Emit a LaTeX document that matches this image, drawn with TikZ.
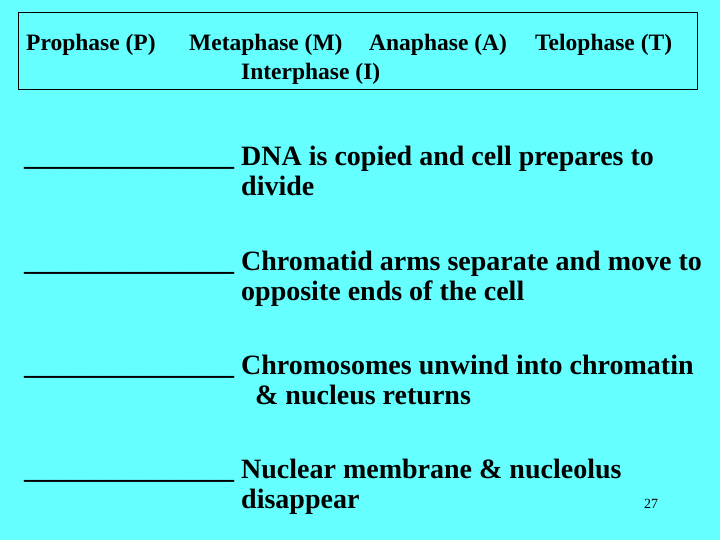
\documentclass[tikz,border=0pt]{standalone}
\usepackage{fontspec}
\setmainfont{Liberation Serif}
\begin{document}
\begin{tikzpicture}[x=1pt,y=-1pt,
  hdr/.style={anchor=base west,inner sep=0pt,font=\bfseries\fontsize{23.5}{28}\selectfont},
  body/.style={anchor=base west,inner sep=0pt,font=\bfseries\fontsize{28}{33}\selectfont}]
\fill[fill={rgb,255:red,102;green,255;blue,255}] (0,0) rectangle (720,540);
\useasboundingbox (0,0) rectangle (720,540);
\draw[line width=0.8pt] (18,12) rectangle (697,89);
\node[hdr] (p) at (26,51) {Prophase (P)};
\node[hdr] (m) at (189,51) {Metaphase (M)};
\node[hdr] (an) at (369,51) {Anaphase (A)};
\node[hdr] (t) at (535,51) {Telophase (T)};
\node[hdr] (i) at (241,80) {Interphase (I)};
\foreach \y/\a/\b [count=\k] in {166/{DNA is copied and cell prepares to}/{divide},
  270/{Chromatid arms separate and move to}/{opposite ends of the cell},
  374/{Chromosomes unwind into chromatin}/{\ \ \& nucleus returns},
  478/{Nuclear membrane \& nucleolus}/{disappear}}{
  \node[body] (u\k) at (24,\y) {\_\_\_\_\_\_\_\_\_\_\_\_\_\_\_};
  \node[body] (a\k) at (241,\y) {\a};
  \node[body] (b\k) at (241,\y+30) {\b};
}
\node[anchor=base west,inner sep=0pt,font=\fontsize{14}{16}\selectfont] (n) at (644,508) {27};
\end{tikzpicture}
\end{document}
